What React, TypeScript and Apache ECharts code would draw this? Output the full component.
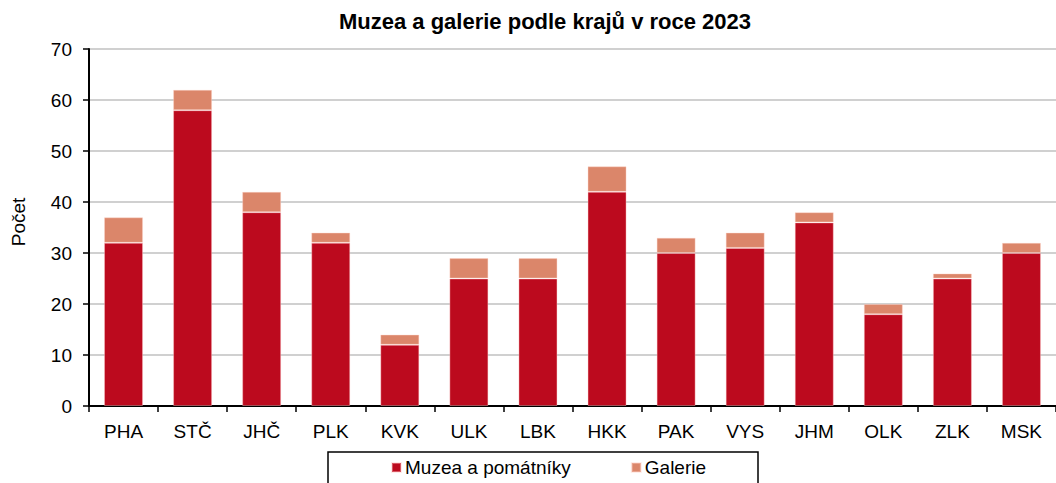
import React, { useEffect, useRef } from "react";
import * as echarts from "echarts";

const categories = ["PHA", "STČ", "JHČ", "PLK", "KVK", "ULK", "LBK", "HKK", "PAK", "VYS", "JHM", "OLK", "ZLK", "MSK"];
const muzea = [32, 58, 38, 32, 12, 25, 25, 42, 30, 31, 36, 18, 25, 30];
const galerie = [5, 4, 4, 2, 2, 4, 4, 5, 3, 3, 2, 2, 1, 2];
const seriesNames = ["Muzea a pomátníky", "Galerie"];
const titleText = "Muzea a galerie podle krajů v roce 2023";
const yAxisTitle = "Počet";

const FONT = "'Liberation Sans', Arial, sans-serif";

export default function App() {
  const ref = useRef<HTMLDivElement>(null);
  useEffect(() => {
    if (!ref.current) return;
    const chart = echarts.init(ref.current, null, { renderer: "svg" });
    chart.setOption({
      animation: false,
      backgroundColor: "#fff",
      textStyle: { fontFamily: FONT },
      grid: { left: 89, top: 49, bottom: 77, right: -9, containLabel: false },
      legend: {
        left: 391,
        top: 458,
        padding: 0,
        icon: "rect",
        itemWidth: 9,
        itemHeight: 9,
        itemGap: 60,
        textStyle: { fontSize: 19, color: "#000", fontFamily: FONT, padding: [0, 0, 0, -1] },
        data: seriesNames,
      },
      xAxis: {
        type: "category",
        data: categories,
        axisLine: { lineStyle: { color: "#000", width: 2 } },
        axisTick: { show: true, length: 6, lineStyle: { color: "#000", width: 1.5 } },
        axisLabel: { fontSize: 19, color: "#000", margin: 16, fontFamily: FONT },
      },
      yAxis: {
        type: "value",
        min: 0,
        max: 70,
        interval: 10,
        axisLine: { show: true, lineStyle: { color: "#000", width: 2 } },
        axisTick: { show: true, length: 6, lineStyle: { color: "#000", width: 1.5 } },
        axisLabel: { fontSize: 19, color: "#000", margin: 17, fontFamily: FONT },
        splitLine: { lineStyle: { color: "#C0C0C0", width: 1.5 } },
      },
      series: [
        {
          name: seriesNames[0],
          type: "bar",
          stack: "a",
          data: muzea,
          barWidth: 39,
          itemStyle: { color: "#BC0A1E", borderColor: "rgba(255,200,200,0.4)", borderWidth: 1 },
        },
        {
          name: seriesNames[1],
          type: "bar",
          stack: "a",
          data: galerie,
          barWidth: 39,
          itemStyle: { color: "#DB866A", borderColor: "rgba(255,210,200,0.4)", borderWidth: 1 },
        },
      ],
      graphic: [
        {
          type: "text",
          x: 545,
          y: 21,
          style: {
            text: titleText,
            font: `bold 22px ${FONT}`,
            fill: "#000",
            textAlign: "center",
            textVerticalAlign: "middle",
          },
        },
        {
          type: "text",
          x: 18,
          y: 222,
          rotation: Math.PI / 2,
          style: {
            text: yAxisTitle,
            font: `19px ${FONT}`,
            fill: "#000",
            textAlign: "center",
            textVerticalAlign: "middle",
          },
        },
        {
          type: "rect",
          shape: { x: 328, y: 452, width: 430, height: 40 },
          style: { fill: "none", stroke: "#000", lineWidth: 1.5 },
        },
      ],
    });
    return () => chart.dispose();
  }, []);
  return <div ref={ref} style={{ width: 1056, height: 483, position: "absolute", left: 0, top: 0 }} />;
}
